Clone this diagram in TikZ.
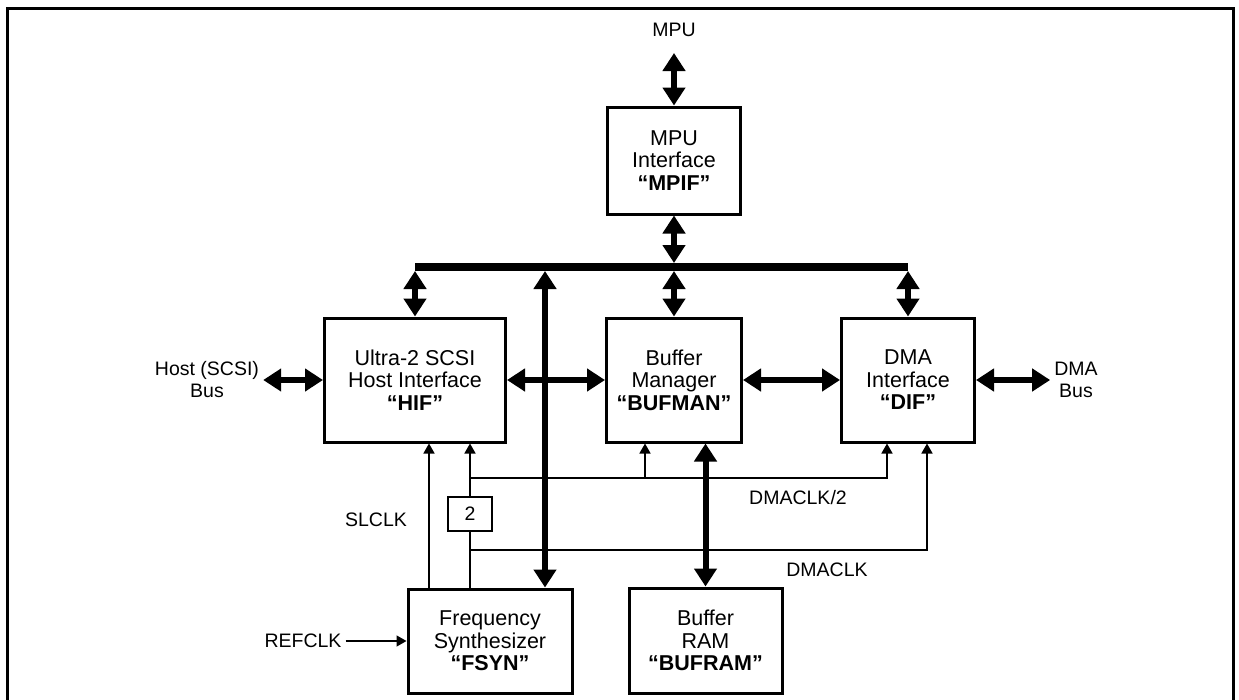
\documentclass[tikz,border=0pt]{standalone}
\usepackage{fontspec}
\setmainfont{Liberation Sans}
\usetikzlibrary{arrows.meta}

\tikzset{
	blk/.style={draw, line width=3pt, align=center, inner sep=0pt, font=\fontsize{21.5}{22.5}\selectfont},
	lbl/.style={align=center, inner sep=4pt, font=\fontsize{19.5}{22}\selectfont},
	dbl/.style={line width=6pt, {Triangle[length=18pt,width=22pt]}-{Triangle[length=18pt,width=22pt]}},
	sig/.style={line width=1.5pt, -{Triangle[length=10pt,width=11pt]}},
	wire/.style={line width=1.5pt}
}

\begin{document}
\begin{tikzpicture}[x=1pt,y=-1pt]
		\useasboundingbox (0,0) rectangle (1239,699);
		\draw[line width=3pt] (7,8) rectangle (1233,712);
		
		\node[blk, minimum width=133pt, minimum height=107pt] (mpif) at (674,160.5) {MPU\\Interface\\\textbf{“MPIF”}};
		\node[blk, minimum width=181pt, minimum height=124pt] (hif) at (415,380) {Ultra-2 SCSI\\Host Interface\\\textbf{“HIF”}};
		\node[blk, minimum width=135pt, minimum height=124pt] (bufman) at (674,380) {Buffer\\Manager\\\textbf{“BUFMAN”}};
		\node[blk, minimum width=133pt, minimum height=124pt] (dif) at (908,380) {DMA\\Interface\\\textbf{“DIF”}};
		\node[blk, minimum width=164pt, minimum height=104pt] (fsyn) at (490,641) {Frequency\\Synthesizer\\\textbf{“FSYN”}};
		\node[blk, minimum width=153pt, minimum height=105pt] (bufram) at (705.5,640.5) {Buffer\\RAM\\\textbf{“BUFRAM”}};
		\node[blk, line width=1.5pt, minimum width=44pt, minimum height=34pt, font=\fontsize{19.5}{22}\selectfont] (two) at (470,514) {2};
		
		\node[lbl] (mpu) at (674,30) {MPU};
		\node[lbl] (host) at (207,380) {Host (SCSI)\\Bus};
		\node[lbl] (dmabus) at (1076,380) {DMA\\Bus};
		\node[lbl] (refclk) at (303,641) {REFCLK};
		\node[lbl] (slclk) at (376,520) {SLCLK};
		\node[lbl] (dclkhalf) at (798,498) {DMACLK/2};
		\node[lbl] (dclk) at (827,570) {DMACLK};
		
		\coordinate (busl) at (415,267);
		\coordinate (busr) at (908,267);
		\coordinate (tap) at (545,267);
		\coordinate (sl) at (429,600);
		\coordinate (dhalf) at (470,478);
		\coordinate (dfull) at (470,550);
		
		% clock lines
		\draw[sig] (refclk) to (fsyn);
		\draw[sig] (fsyn.north -| sl) to (hif.south -| sl);
		\draw[wire] (fsyn.north -| two) to (two);
		\draw[sig] (two) to (hif.south -| two);
		\draw[sig] (dhalf) -| ([xshift=-21pt]dif.south);
		\draw[sig] ([xshift=-29pt]bufman.south |- dhalf) to ([xshift=-29pt]bufman.south);
		\draw[sig] (dfull) -| ([xshift=19pt]dif.south);
		
		% data paths
		\draw[line width=8pt] (busl) to (busr);
		\draw[dbl, shorten <=12pt] (mpu) to (mpif);
		\draw[dbl, shorten >=4pt] (mpif) to (mpif |- busl);
		\draw[dbl, shorten <=4pt] (busl) to (hif);
		\draw[dbl, shorten <=4pt] (bufman |- busl) to (bufman);
		\draw[dbl, shorten <=4pt] (busr) to (dif);
		\draw[dbl, shorten <=4pt] (tap) to (tap |- fsyn.north);
		\draw[dbl] (host) to (hif);
		\draw[dbl] (hif) to (bufman);
		\draw[dbl] (bufman) to (dif);
		\draw[dbl] (dif) to (dmabus);
		\draw[dbl] (bufram) to (bufram |- bufman.south);
	\end{tikzpicture}
\end{document}
